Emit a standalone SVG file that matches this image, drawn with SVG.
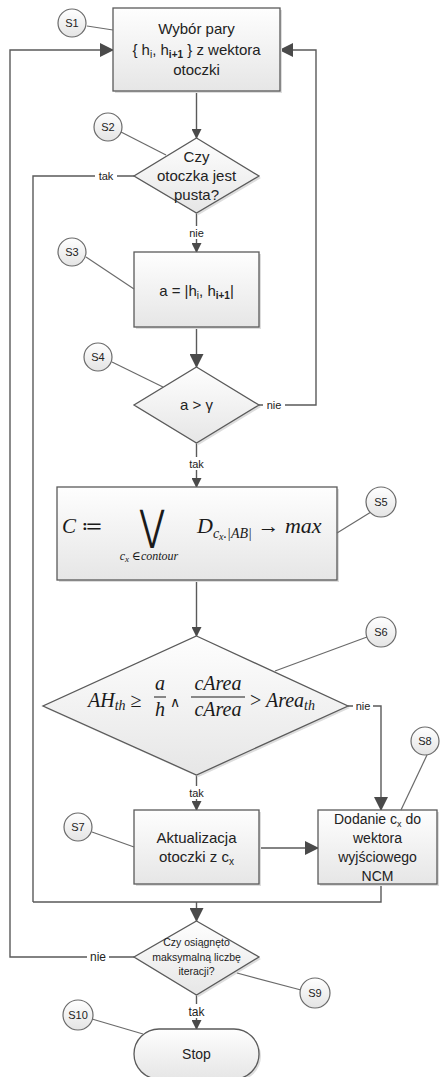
<svg xmlns="http://www.w3.org/2000/svg" width="443" height="1077" viewBox="0 0 443 1077">
<defs>
<linearGradient id="g" x1="0" y1="0" x2="0" y2="1">
<stop offset="0" stop-color="#fefefe"/>
<stop offset="1" stop-color="#e6e6e6"/>
</linearGradient>
<linearGradient id="gc" x1="0" y1="0" x2="0" y2="1">
<stop offset="0" stop-color="#ffffff"/>
<stop offset="1" stop-color="#e4e4e4"/>
</linearGradient>
<marker id="ah" markerWidth="10" markerHeight="10" refX="9" refY="5" orient="auto" markerUnits="userSpaceOnUse">
<path d="M0,0 L10,5 L0,10 Z" fill="#4a4a4a"/>
</marker>
<marker id="ahb" markerWidth="14" markerHeight="14" refX="13" refY="7" orient="auto" markerUnits="userSpaceOnUse">
<path d="M0,0 L14,7 L0,14 Z" fill="#4a4a4a"/>
</marker>
</defs>
<style>
.shape{fill:url(#g);stroke:#5a5a5a;stroke-width:1.3}
.shadow{fill:#dddddd;stroke:none}
.circ{fill:url(#gc);stroke:#6a6a6a;stroke-width:1.2}
.lead{stroke:#6a6a6a;stroke-width:1.2;fill:none}
.con{stroke:#5a5a5a;stroke-width:1.4;fill:none}
.t{font-family:"Liberation Sans",Arial,sans-serif;font-size:15px;fill:#222;text-anchor:middle}
.ts{font-family:"Liberation Sans",Arial,sans-serif;font-size:11px;fill:#222;text-anchor:middle}
.lbl{font-family:"Liberation Sans",Arial,sans-serif;font-size:11px;fill:#222;text-anchor:middle}
.m{font-family:"Liberation Serif","DejaVu Serif",serif;font-style:italic;fill:#1a1a1a}
.bg{fill:#ffffff}
</style>

<g id="connectors">
<line class="con" x1="196.5" y1="91" x2="196.5" y2="138" marker-end="url(#ah)"/>
<polyline class="con" points="134,176 33,176 33,902"/>
<line class="con" x1="196.5" y1="213" x2="196.5" y2="252" marker-end="url(#ah)"/>
<line class="con" x1="196.5" y1="327" x2="196.5" y2="367" marker-end="url(#ahb)"/>
<polyline class="con" points="259,405 316,405 316,50 280,50" marker-end="url(#ahb)"/>
<line class="con" x1="196.5" y1="443" x2="196.5" y2="487" marker-end="url(#ah)"/>
<line class="con" x1="196.5" y1="580" x2="196.5" y2="636" marker-end="url(#ah)"/>
<polyline class="con" points="348,706 381,706 381,810" marker-end="url(#ahb)"/>
<line class="con" x1="196.5" y1="775" x2="196.5" y2="810" marker-end="url(#ah)"/>
<line class="con" x1="259" y1="848" x2="318" y2="848" marker-end="url(#ahb)"/>
<polyline class="con" points="381,884 381,902 33,902"/>
<line class="con" x1="196.5" y1="902" x2="196.5" y2="921" marker-end="url(#ahb)"/>
<polyline class="con" points="134,957 10,957 10,50 113,50" marker-end="url(#ahb)"/>
<line class="con" x1="196.5" y1="995" x2="196.5" y2="1029" marker-end="url(#ah)"/>

<rect class="bg" x="95" y="169" width="22" height="13"/>
<text class="lbl" x="106" y="180">tak</text>
<rect class="bg" x="185" y="226" width="23" height="13"/>
<text class="lbl" x="196.5" y="237">nie</text>
<rect class="bg" x="263" y="398" width="22" height="13"/>
<text class="lbl" x="274" y="409">nie</text>
<rect class="bg" x="185" y="457" width="23" height="13"/>
<text class="lbl" x="196.5" y="468">tak</text>
<rect class="bg" x="353" y="700" width="20" height="12"/>
<text class="lbl" x="363" y="710">nie</text>
<rect class="bg" x="185" y="786" width="23" height="13"/>
<text class="lbl" x="196.5" y="797">tak</text>
<rect class="bg" x="87" y="950" width="22" height="14"/>
<text class="lbl" x="98" y="961" style="font-size:12px">nie</text>
<rect class="bg" x="185" y="1004" width="23" height="14"/>
<text class="lbl" x="196.5" y="1016" style="font-size:12px">tak</text>
</g>

<g id="s1">
<rect class="shadow" x="115" y="10" width="167" height="83"/>
<rect class="shape" x="113" y="8" width="167" height="83"/>
<text class="t" x="196.5" y="34">Wybór pary</text>
<text class="t" x="196.5" y="55">{ h<tspan font-size="10" dy="3">i</tspan><tspan dy="-3">, h</tspan><tspan font-size="10" dy="3" font-weight="bold">i+1</tspan><tspan dy="-3"> } z wektora</tspan></text>
<text class="t" x="196.5" y="75">otoczki</text>
<line class="lead" x1="87" y1="26" x2="113" y2="30"/>
<circle class="circ" cx="72" cy="23" r="14"/>
<text class="ts" x="72" y="27">S1</text>
</g>

<g id="s2">
<polygon class="shadow" points="198.5,140 261,178 198.5,215 136,178"/>
<polygon class="shape" points="196.5,138 259,176 196.5,213 134,176"/>
<text class="t" x="196.5" y="162">Czy</text>
<text class="t" x="196.5" y="181">otoczka jest</text>
<text class="t" x="196.5" y="200">pusta?</text>
<line class="lead" x1="121" y1="132" x2="166" y2="155"/>
<circle class="circ" cx="108" cy="127" r="14"/>
<text class="ts" x="108" y="131">S2</text>
</g>

<g id="s3">
<rect class="shadow" x="136" y="254" width="125" height="75"/>
<rect class="shape" x="134" y="252" width="125" height="75"/>
<text class="t" x="196.5" y="296">a = |h<tspan font-size="10" dy="3">i</tspan><tspan dy="-3">, h</tspan><tspan font-size="10" dy="3" font-weight="bold">i+1</tspan><tspan dy="-3">|</tspan></text>
<line class="lead" x1="86" y1="257" x2="134" y2="289"/>
<circle class="circ" cx="72" cy="252" r="14"/>
<text class="ts" x="72" y="256">S3</text>
</g>

<g id="s4">
<polygon class="shadow" points="198.5,369 261,407 198.5,445 136,407"/>
<polygon class="shape" points="196.5,367 259,405 196.5,443 134,405"/>
<text class="t" x="196.5" y="410">a &gt; γ</text>
<line class="lead" x1="112" y1="362" x2="163" y2="387"/>
<circle class="circ" cx="98" cy="357" r="14"/>
<text class="ts" x="98" y="361">S4</text>
</g>

<g id="s5">
<rect class="shadow" x="59" y="489" width="280" height="93"/>
<rect class="shape" x="57" y="487" width="280" height="93"/>
<text class="m" x="62" y="533" font-size="21">C <tspan font-style="normal">≔</tspan></text>
<text x="152" y="540" font-family="'DejaVu Sans',sans-serif" font-size="40" text-anchor="middle" fill="#1a1a1a" transform="translate(152 540) scale(0.75 1.05) translate(-152 -540)">⋁</text>
<text class="m" x="149" y="560" font-size="12" text-anchor="middle">c<tspan font-size="9" dy="2">x</tspan><tspan dy="-2" font-style="normal"> ∈</tspan>contour</text>
<text class="m" x="197" y="533" font-size="22">D<tspan font-size="14" dy="5">c</tspan><tspan font-size="10" dy="2">x</tspan><tspan font-size="14" dy="-2">.|AB|</tspan><tspan dy="-5" font-style="normal"> → </tspan>max</text>
<line class="lead" x1="371" y1="512" x2="337" y2="533"/>
<circle class="circ" cx="381" cy="502" r="15"/>
<text class="ts" x="381" y="506">S5</text>
</g>

<g id="s6">
<polygon class="shadow" points="198.5,638 350,708 198.5,777 45,708"/>
<polygon class="shape" points="196.5,636 348,706 196.5,775 43,706"/>
<text class="m" x="88" y="707" font-size="20">AH<tspan font-size="14" dy="3">th</tspan><tspan dy="-3" font-style="normal"> ≥</tspan></text>
<text class="m" x="160" y="690" font-size="20" text-anchor="middle">a</text>
<line x1="154" y1="697" x2="166" y2="697" stroke="#1a1a1a" stroke-width="1"/>
<text class="m" x="160" y="716" font-size="20" text-anchor="middle">h</text>
<text x="175" y="707" font-family="'DejaVu Sans',sans-serif" font-size="14" text-anchor="middle" fill="#1a1a1a">∧</text>
<text class="m" x="218" y="690" font-size="20" text-anchor="middle">cArea</text>
<line x1="191" y1="697" x2="245" y2="697" stroke="#1a1a1a" stroke-width="1"/>
<text class="m" x="218" y="716" font-size="20" text-anchor="middle">cArea</text>
<text class="m" x="250" y="707" font-size="20"><tspan font-style="normal">&gt;</tspan> Area<tspan font-size="14" dy="3">th</tspan></text>
<line class="lead" x1="367" y1="637" x2="275" y2="671"/>
<circle class="circ" cx="381" cy="632" r="15"/>
<text class="ts" x="381" y="636">S6</text>
</g>

<g id="s7">
<rect class="shadow" x="136" y="812" width="125" height="74"/>
<rect class="shape" x="134" y="810" width="125" height="74"/>
<text class="t" x="196.5" y="843">Aktualizacja</text>
<text class="t" x="196.5" y="862">otoczki z c<tspan font-size="10" dy="3">x</tspan></text>
<line class="lead" x1="92" y1="832" x2="134" y2="847"/>
<circle class="circ" cx="78" cy="827" r="14"/>
<text class="ts" x="78" y="831">S7</text>
</g>

<g id="s8">
<rect class="shadow" x="320" y="812" width="119" height="74"/>
<rect class="shape" x="318" y="810" width="119" height="74"/>
<text class="t" x="377.5" y="824" style="font-size:14px">Dodanie c<tspan font-size="9" dy="3">x</tspan><tspan dy="-3"> do</tspan></text>
<text class="t" x="377.5" y="843" style="font-size:14px">wektora</text>
<text class="t" x="377.5" y="862" style="font-size:14px">wyjściowego</text>
<text class="t" x="377.5" y="881" style="font-size:14px">NCM</text>
<line class="lead" x1="427" y1="755" x2="401" y2="810"/>
<circle class="circ" cx="425" cy="741" r="14"/>
<text class="ts" x="425" y="745">S8</text>
</g>

<g id="s9">
<polygon class="shadow" points="198.5,923 261,959 198.5,997 136,959"/>
<polygon class="shape" points="196.5,921 259,957 196.5,995 134,957"/>
<text class="t" x="196.5" y="946" style="font-size:10.5px">Czy osiągnęto</text>
<text class="t" x="196.5" y="961" style="font-size:10.5px">maksymalną liczbę</text>
<text class="t" x="196.5" y="975" style="font-size:10.5px">iteracji?</text>
<line class="lead" x1="301" y1="990" x2="237" y2="973"/>
<circle class="circ" cx="315" cy="993" r="15"/>
<text class="ts" x="315" y="997">S9</text>
</g>

<g id="s10">
<rect class="shadow" x="136" y="1031" width="125" height="50" rx="25"/>
<rect class="shape" x="134" y="1029" width="125" height="50" rx="25"/>
<text class="t" x="196.5" y="1059" style="font-size:14px">Stop</text>
<line class="lead" x1="92" y1="1019" x2="143" y2="1034"/>
<circle class="circ" cx="78" cy="1015" r="15"/>
<text class="ts" x="78" y="1019">S10</text>
</g>
</svg>
